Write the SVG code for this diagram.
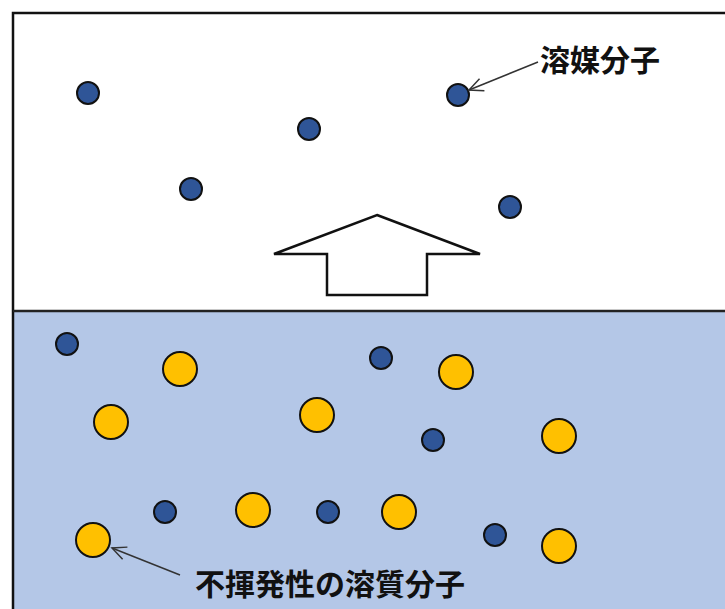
<svg xmlns="http://www.w3.org/2000/svg" width="725" height="609" viewBox="0 0 725 609">
<defs>
<style>
.solv{fill:#2F5597;stroke:#111;stroke-width:2}
.solu{fill:#FFC000;stroke:#111;stroke-width:2}
.lbl{font-family:"Noto Sans CJK JP","Noto Sans CJK SC",sans-serif;font-weight:bold;font-size:30px;fill:#111}
.lead{stroke:#333;stroke-width:1.5;fill:none}
</style>
<marker id="open" markerWidth="20" markerHeight="20" refX="14" refY="8" orient="auto" markerUnits="userSpaceOnUse" overflow="visible">
<path d="M0,1.5 L14,8 L0,14.5" fill="none" stroke="#333" stroke-width="1.5"/>
</marker>
</defs>
<rect x="0" y="0" width="725" height="609" fill="#fff"/>
<g id="solution">
<rect x="13" y="311" width="720" height="310" fill="#B4C7E7"/>
</g>
<g id="frame">
<path d="M13,611 V13 H727" fill="none" stroke="#111" stroke-width="2.5"/>
<line x1="13" y1="311" x2="727" y2="311" stroke="#222" stroke-width="2.5"/>
</g>
<g id="evap-arrow">
<polygon points="377,215 480,254 427,254 427,295 327,295 327,254 274,254" fill="#fff" stroke="#111" stroke-width="2.5"/>
</g>
<g id="solvent-molecules">
<circle class="solv" cx="88" cy="93" r="11"/>
<circle class="solv" cx="309" cy="129" r="11"/>
<circle class="solv" cx="191" cy="189" r="11"/>
<circle class="solv" cx="458" cy="95" r="11"/>
<circle class="solv" cx="510" cy="207" r="11"/>
<circle class="solv" cx="67" cy="344" r="11"/>
<circle class="solv" cx="381" cy="358" r="11"/>
<circle class="solv" cx="433" cy="440" r="11"/>
<circle class="solv" cx="165" cy="512" r="11"/>
<circle class="solv" cx="328" cy="512" r="11"/>
<circle class="solv" cx="495" cy="535" r="11"/>
</g>
<g id="solute-molecules">
<circle class="solu" cx="180" cy="369" r="17"/>
<circle class="solu" cx="456" cy="372" r="17"/>
<circle class="solu" cx="111" cy="422" r="17"/>
<circle class="solu" cx="317" cy="415" r="17"/>
<circle class="solu" cx="559" cy="436" r="17"/>
<circle class="solu" cx="253" cy="510" r="17"/>
<circle class="solu" cx="399" cy="512" r="17"/>
<circle class="solu" cx="93" cy="540" r="17"/>
<circle class="solu" cx="559" cy="546" r="17"/>
</g>
<g id="connectors">
<line class="lead" x1="538" y1="62" x2="469" y2="90" marker-end="url(#open)"/>
<line class="lead" x1="180" y1="575" x2="112" y2="548" marker-end="url(#open)"/>
</g>
<g id="label-solvent">
<text class="lbl" x="540" y="71">溶媒分子</text>
</g>
<g id="label-solute">
<text class="lbl" x="195" y="595">不揮発性の溶質分子</text>
</g>
</svg>
